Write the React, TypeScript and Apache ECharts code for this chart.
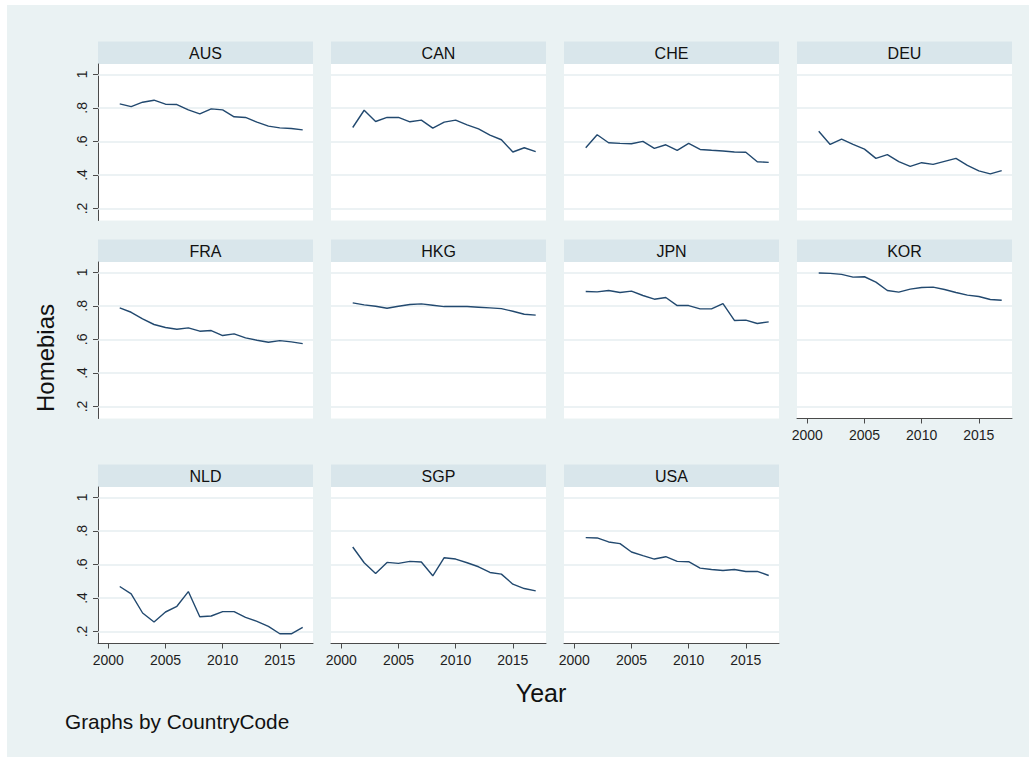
import React, { useEffect, useRef } from "react";
import * as echarts from "echarts";

const years = [2001, 2002, 2003, 2004, 2005, 2006, 2007, 2008, 2009, 2010, 2011, 2012, 2013, 2014, 2015, 2016, 2017];

const AUS = [0.824, 0.808, 0.834, 0.846, 0.822, 0.82, 0.788, 0.764, 0.794, 0.788, 0.747, 0.743, 0.715, 0.691, 0.681, 0.677, 0.669];
const CAN = [0.683, 0.786, 0.719, 0.743, 0.743, 0.717, 0.727, 0.679, 0.715, 0.727, 0.699, 0.675, 0.638, 0.61, 0.537, 0.562, 0.539];
const CHE = [0.562, 0.64, 0.592, 0.588, 0.586, 0.6, 0.558, 0.58, 0.547, 0.588, 0.552, 0.547, 0.543, 0.537, 0.535, 0.479, 0.475];
const DEU = [0.661, 0.582, 0.614, 0.582, 0.554, 0.499, 0.521, 0.479, 0.451, 0.473, 0.463, 0.481, 0.499, 0.457, 0.424, 0.406, 0.426];
const FRA = [0.788, 0.762, 0.723, 0.689, 0.671, 0.661, 0.669, 0.649, 0.653, 0.623, 0.633, 0.609, 0.595, 0.583, 0.593, 0.585, 0.575];
const HKG = [0.818, 0.806, 0.798, 0.786, 0.798, 0.808, 0.812, 0.804, 0.796, 0.796, 0.796, 0.792, 0.788, 0.784, 0.768, 0.75, 0.745];
const JPN = [0.886, 0.884, 0.892, 0.88, 0.888, 0.862, 0.84, 0.85, 0.802, 0.802, 0.782, 0.782, 0.814, 0.713, 0.715, 0.695, 0.705];
const KOR = [0.996, 0.994, 0.988, 0.972, 0.974, 0.942, 0.892, 0.882, 0.9, 0.91, 0.912, 0.898, 0.88, 0.864, 0.856, 0.838, 0.834];
const NLD = [0.468, 0.424, 0.31, 0.256, 0.316, 0.35, 0.438, 0.288, 0.292, 0.318, 0.318, 0.284, 0.26, 0.23, 0.186, 0.186, 0.224];
const SGP = [0.704, 0.61, 0.546, 0.612, 0.606, 0.618, 0.614, 0.532, 0.64, 0.632, 0.61, 0.586, 0.552, 0.542, 0.482, 0.456, 0.442];
const USA = [0.76, 0.758, 0.734, 0.724, 0.674, 0.652, 0.632, 0.646, 0.618, 0.616, 0.578, 0.57, 0.564, 0.57, 0.558, 0.558, 0.534];

const countries = ["AUS", "CAN", "CHE", "DEU", "FRA", "HKG", "JPN", "KOR", "NLD", "SGP", "USA"];
const seriesValues = [AUS, CAN, CHE, DEU, FRA, HKG, JPN, KOR, NLD, SGP, USA];

const yTicks = [0.2, 0.4, 0.6, 0.8, 1];
const xTicks = [2000, 2005, 2010, 2015];

const yTitle = "Homebias";
const xTitle = "Year";
const note = "Graphs by CountryCode";

const FONT = "'Liberation Sans', Arial, sans-serif";

export default function App() {
  const ref = useRef<HTMLDivElement>(null);

  useEffect(() => {
    if (!ref.current) return;
    const chart = echarts.init(ref.current, null, { renderer: "svg" });
    const OX = 7;
    const OY = 5;
    const colLefts = [98, 331, 564, 797];
    const rowTops = [64, 262, 487];
    const W = 215;
    const H = 156.5;
    const stripH = 22.5;

    const grids: any[] = [];
    const xAxes: any[] = [];
    const yAxes: any[] = [];
    const series: any[] = [];
    const graphics: any[] = [];

    countries.forEach((c, i) => {
      const r = Math.floor(i / 4);
      const col = i % 4;
      const left = colLefts[col] - OX;
      const top = rowTops[r] - OY;
      const showX = r === 2 || (r === 1 && col === 3);
      const showY = col === 0;

      grids.push({
        left,
        top,
        width: W,
        height: H,
        show: true,
        backgroundColor: "#ffffff",
        borderWidth: 0,
      });

      xAxes.push({
        gridIndex: i,
        type: "value",
        min: 1999.1,
        max: 2017.9,
        axisLine: { show: showX, onZero: false, lineStyle: { color: "#4a4a4a", width: 1 } },
        axisTick: { show: showX, length: 5, customValues: xTicks, lineStyle: { color: "#4a4a4a" } },
        axisLabel: {
          show: showX,
          customValues: xTicks,
          margin: 9,
          fontSize: 14,
          color: "#1e1e1e",
          fontFamily: FONT,
          formatter: (v: number) => String(v),
        },
        splitLine: { show: false },
      });

      yAxes.push({
        gridIndex: i,
        type: "value",
        min: 0.128,
        max: 1.062,
        axisLine: { show: showY, lineStyle: { color: "#4a4a4a", width: 1 } },
        axisTick: { show: showY, length: 5, customValues: yTicks, lineStyle: { color: "#4a4a4a" } },
        axisLabel: {
          show: showY,
          customValues: yTicks,
          rotate: 90,
          margin: 9,
          fontSize: 14,
          color: "#1e1e1e",
          fontFamily: FONT,
          formatter: (v: number) => (Math.abs(v - 1) < 1e-9 ? "1" : "." + Math.round(v * 10)),
        },
        splitLine: { show: false },
      });

      series.push({
        type: "line",
        xAxisIndex: i,
        yAxisIndex: i,
        data: years.map((y, j) => [y, seriesValues[i][j]]),
        symbol: "none",
        lineStyle: { color: "#22496f", width: 1.4 },
        z: 3,
        markLine: {
          silent: true,
          z: 1,
          symbol: ["none", "none"],
          label: { show: false },
          lineStyle: { color: "#e6eef1", width: 1.6, type: "solid" },
          data: yTicks.map((v) => ({ yAxis: v })),
        },
      });

      graphics.push({
        type: "rect",
        shape: { x: left, y: top - stripH, width: W, height: stripH },
        style: { fill: "#d9e6eb" },
        silent: true,
      });
      graphics.push({
        type: "text",
        x: left + W / 2,
        y: top - stripH / 2 + 0.5,
        style: {
          text: c,
          fontSize: 16,
          fontFamily: FONT,
          fill: "#111111",
          align: "center",
          verticalAlign: "middle",
        },
        silent: true,
      });
    });

    graphics.push({
      type: "text",
      x: 45 - OX,
      y: 358 - OY,
      rotation: Math.PI / 2,
      style: {
        text: yTitle,
        fontSize: 24,
        fontFamily: FONT,
        fill: "#111111",
        align: "center",
        verticalAlign: "middle",
      },
      silent: true,
    });
    graphics.push({
      type: "text",
      x: 541 - OX,
      y: 693 - OY,
      style: {
        text: xTitle,
        fontSize: 25,
        fontFamily: FONT,
        fill: "#111111",
        align: "center",
        verticalAlign: "middle",
      },
      silent: true,
    });
    graphics.push({
      type: "text",
      x: 65 - OX,
      y: 721 - OY,
      style: {
        text: note,
        fontSize: 20.8,
        fontFamily: FONT,
        fill: "#111111",
        align: "left",
        verticalAlign: "middle",
      },
      silent: true,
    });

    chart.setOption({
      animation: false,
      backgroundColor: "#eaf2f3",
      grid: grids,
      xAxis: xAxes,
      yAxis: yAxes,
      series,
      graphic: { elements: graphics },
    });

    return () => {
      chart.dispose();
    };
  }, []);

  return (
    <div style={{ position: "absolute", left: 0, top: 0, width: 1036, height: 759, background: "#ffffff" }}>
      <div
        ref={ref}
        style={{ position: "absolute", left: 7, top: 5, width: 1022, height: 752, background: "#eaf2f3" }}
      />
    </div>
  );
}
